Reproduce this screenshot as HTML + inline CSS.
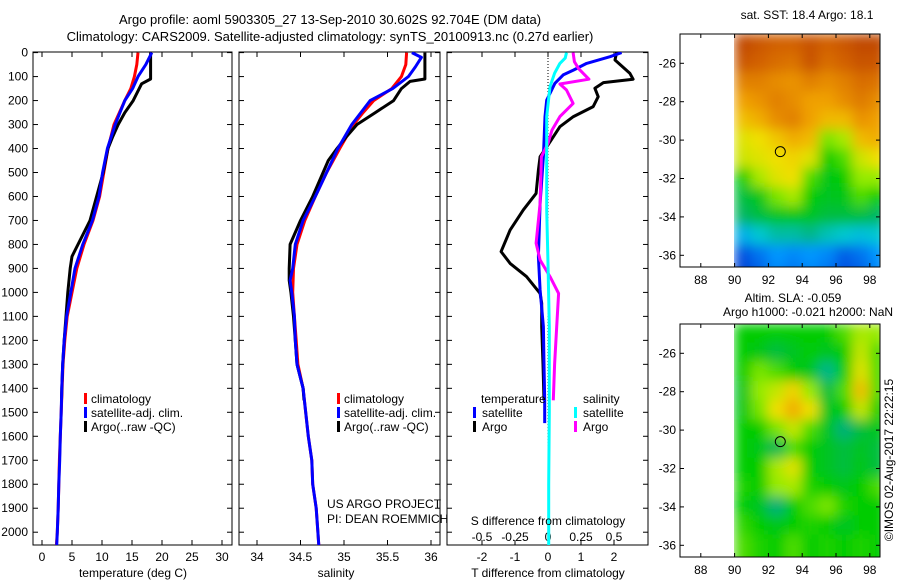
<!DOCTYPE html>
<html><head><meta charset="utf-8">
<style>
html,body{margin:0;padding:0;background:#fff;}
svg{display:block;font-family:"Liberation Sans",Arial,sans-serif;}
text{fill:#000;font-size:12px;}
</style></head>
<body>
<svg id="fig" width="900" height="580" viewBox="0 0 900 580" xmlns="http://www.w3.org/2000/svg">
<defs>
<clipPath id="c1"><rect x="33" y="52" width="199" height="493"/></clipPath>
<clipPath id="c2"><rect x="239" y="52" width="201" height="493"/></clipPath>
<clipPath id="c3"><rect x="447" y="52" width="201" height="493"/></clipPath>
<clipPath id="cm1"><rect x="734" y="34" width="146" height="233"/></clipPath>
<clipPath id="cm2"><rect x="734" y="324" width="146" height="233"/></clipPath>
<filter id="blur" x="-5%" y="-5%" width="110%" height="110%"><feGaussianBlur stdDeviation="6" edgeMode="duplicate"/></filter>
</defs>
<text x="330" y="24" text-anchor="middle" style="font-size:13px">Argo profile: aoml 5903305_27 13-Sep-2010 30.602S 92.704E (DM data)</text>
<text x="330" y="41" text-anchor="middle" style="font-size:13px">Climatology: CARS2009. Satellite-adjusted climatology: synTS_20100913.nc (0.27d earlier)</text>
<g id="axes"></g>
<g id="p1" clip-path="url(#c1)"></g>
<g id="p2" clip-path="url(#c2)"></g>
<g id="p3" clip-path="url(#c3)"><line x1="548" y1="52" x2="548" y2="545" stroke="#000" stroke-width="1" stroke-dasharray="1,2"/></g>
<g clip-path="url(#cm1)"><g id="m1" filter="url(#blur)"></g></g>
<g clip-path="url(#cm2)"><g id="m2" filter="url(#blur)"></g></g>
<g id="maxes"></g>
<g id="legends">
<rect x="84" y="393" width="3" height="11" fill="#f00"/><text x="91" y="403">climatology</text>
<rect x="84" y="407" width="3" height="11" fill="#00f"/><text x="91" y="417">satellite-adj. clim.</text>
<rect x="84" y="421" width="3" height="11" fill="#000"/><text x="91" y="431">Argo(..raw -QC)</text>
<rect x="337" y="393" width="3" height="11" fill="#f00"/><text x="344" y="403">climatology</text>
<rect x="337" y="407" width="3" height="11" fill="#00f"/><text x="344" y="417">satellite-adj. clim.</text>
<rect x="337" y="421" width="3" height="11" fill="#000"/><text x="344" y="431">Argo(..raw -QC)</text>
<text x="481" y="403">temperature</text>
<rect x="473" y="407" width="3" height="11" fill="#00f"/><text x="482" y="417">satellite</text>
<rect x="473" y="421" width="3" height="11" fill="#000"/><text x="482" y="431">Argo</text>
<text x="583" y="403">salinity</text>
<rect x="574" y="407" width="3" height="11" fill="#0ff"/><text x="583" y="417">satellite</text>
<rect x="574" y="421" width="3" height="11" fill="#f0f"/><text x="583" y="431">Argo</text>
</g>
<text x="327" y="508">US ARGO PROJECT</text>
<text x="327" y="523">PI: DEAN ROEMMICH</text>
<text x="548" y="525" text-anchor="middle">S difference from climatology</text>
<text x="133" y="577" text-anchor="middle">temperature (deg C)</text>
<text x="336" y="577" text-anchor="middle">salinity</text>
<text x="548" y="577" text-anchor="middle">T difference from climatology</text>
<text x="807" y="19" text-anchor="middle">sat. SST: 18.4  Argo: 18.1</text>
<text x="793" y="302" text-anchor="middle">Altim. SLA: -0.059</text>
<text x="808" y="316" text-anchor="middle">Argo h1000: -0.021 h2000: NaN</text>
<text transform="translate(893,460) rotate(-90)" text-anchor="middle">©IMOS 02-Aug-2017 22:22:15</text>
</svg>
<script>
// ---- profile data ----
const depthT_clim=[0,50,100,150,200,250,300,400,500,600,700,800,900,1000,1100,1200,1300,1400,1500,1600,1700,1800,1900,2000,2055];
const tempClim=[16.0,15.8,15.4,14.8,13.8,12.9,12.0,11.0,10.3,9.6,8.5,7.0,5.8,5.0,4.2,3.8,3.5,3.35,3.2,3.05,2.9,2.8,2.7,2.55,2.4];
const depthT_sat=[0,50,100,150,200,300,400,500,600,700,800,900,1000,1100,1200,1300,1400,1500,1600,1700,1800,1900,2000,2055];
const tempSat=[18.3,17.3,16.0,15.1,13.8,12.2,10.9,10.1,9.5,8.4,6.8,5.5,4.8,4.1,3.7,3.45,3.3,3.2,3.05,2.95,2.8,2.7,2.55,2.45];
const depthT_argo=[0,110,130,200,250,300,350,400,500,600,700,800,850,900,1000,1100,1200,1300,1400,1450];
const tempArgo=[18.1,18.1,16.6,15.2,13.8,12.7,11.8,11.0,10.2,9.1,8.0,6.0,5.0,4.7,4.3,4.0,3.7,3.45,3.3,3.25];
const depthS_clim=[0,50,100,150,200,250,300,400,500,600,700,800,900,1000,1100,1200,1300,1400,1500,1600,1700,1800,1900,2000,2055];
const salClim=[35.72,35.71,35.66,35.55,35.34,35.22,35.11,34.95,34.8,34.67,34.55,34.46,34.42,34.41,34.43,34.45,34.47,34.53,34.56,34.59,34.63,34.64,34.68,34.7,34.71];
const depthS_sat=[0,20,60,100,150,200,300,400,500,600,700,800,900,950,1000,1100,1200,1300,1400,1500,1600,1700,1800,1900,2000,2055];
const salSat=[35.78,35.89,35.82,35.74,35.56,35.3,35.09,34.93,34.8,34.67,34.53,34.44,34.41,34.38,34.4,34.43,34.44,34.46,34.53,34.56,34.59,34.63,34.64,34.68,34.7,34.71];
const depthS_argo=[0,110,120,150,200,250,300,350,400,450,500,600,700,800,900,950,1000,1100,1200,1300,1400,1450];
const salArgo=[35.93,35.93,35.76,35.66,35.57,35.36,35.15,35.03,34.92,34.82,34.76,34.64,34.5,34.38,34.37,34.37,34.39,34.42,34.44,34.46,34.53,34.54];
const depthDT_argo=[0,31,86,111,125,149,184,225,267,309,385,434,490,587,656,740,830,879,934,1004,1045,1143,1300,1450];
const dTArgo=[2.08,2.03,2.48,2.58,1.68,1.42,1.52,1.37,0.77,0.36,0.0,-0.24,-0.29,-0.36,-0.75,-1.15,-1.42,-1.15,-0.65,-0.24,-0.19,-0.19,-0.15,-0.12];
const depthDT_sat=[0,17,45,73,93,128,198,267,434,629,851,990,1143,1300,1450,1545];
const dTSat=[2.23,1.88,1.17,0.77,0.46,0.21,-0.04,-0.09,-0.14,-0.24,-0.29,-0.24,-0.14,-0.12,-0.1,-0.1];
const depthDS_argo=[0,38,66,111,131,156,212,267,323,379,434,629,795,865,934,1004,1143,1300,1450];
const dSArgo=[0.19,0.2,0.23,0.31,0.09,0.14,0.19,0.09,0.03,0.0,-0.05,-0.06,-0.09,-0.06,0.015,0.08,0.066,0.05,0.04];
const depthDS_sat=[0,23,45,86,142,267,462,656,879,1143,1500,1800,2055];
const dSSat=[0.14,0.13,0.09,0.05,0.015,-0.01,-0.01,-0.01,0.0,0.01,0.01,0.005,0.005];
const depthTicks=[0,100,200,300,400,500,600,700,800,900,1000,1100,1200,1300,1400,1500,1600,1700,1800,1900,2000];
const tTicks=[0,5,10,15,20,25,30];
const sTicks=[34,34.5,35,35.5,36];
const dTTicks=[-2,-1,0,1,2];
const dSTicks=[-0.5,-0.25,0,0.25,0.5];
// ---- map data (colour index 0..1 per 1-degree cell, rows from -24.5 southward, cols from 90E) ----
const mapLon0=90, mapLat0=-24.47;
const sstGrid=[
[0.95,0.92,0.9,0.9,0.93,0.9,0.92,0.95,0.95],
[0.92,0.9,0.88,0.87,0.93,0.88,0.9,0.93,0.92],
[0.85,0.85,0.83,0.82,0.85,0.83,0.85,0.88,0.87],
[0.8,0.82,0.85,0.83,0.8,0.8,0.83,0.86,0.83],
[0.75,0.78,0.83,0.85,0.8,0.76,0.76,0.82,0.8],
[0.68,0.7,0.74,0.78,0.76,0.58,0.62,0.76,0.78],
[0.66,0.68,0.7,0.72,0.68,0.5,0.55,0.66,0.7],
[0.5,0.62,0.68,0.7,0.55,0.48,0.5,0.6,0.6],
[0.45,0.48,0.58,0.62,0.5,0.47,0.48,0.55,0.5],
[0.42,0.45,0.47,0.48,0.47,0.45,0.45,0.45,0.42],
[0.25,0.3,0.35,0.35,0.38,0.33,0.3,0.28,0.3],
[0.1,0.15,0.2,0.18,0.2,0.18,0.12,0.15,0.2],
[0.08,0.12,0.18,0.15,0.18,0.15,0.1,0.12,0.18]];
const slaGrid=[
[0.5,0.5,0.5,0.5,0.5,0.5,0.55,0.62,0.6],
[0.5,0.48,0.45,0.47,0.5,0.47,0.5,0.65,0.55],
[0.5,0.58,0.55,0.5,0.47,0.38,0.5,0.68,0.55],
[0.47,0.6,0.65,0.72,0.6,0.45,0.55,0.75,0.55],
[0.48,0.58,0.7,0.78,0.7,0.47,0.5,0.65,0.5],
[0.5,0.5,0.58,0.65,0.55,0.47,0.4,0.45,0.48],
[0.5,0.48,0.43,0.55,0.5,0.47,0.45,0.47,0.45],
[0.5,0.5,0.62,0.68,0.5,0.47,0.45,0.48,0.45],
[0.52,0.5,0.6,0.62,0.52,0.5,0.48,0.5,0.55],
[0.5,0.47,0.4,0.5,0.55,0.58,0.52,0.5,0.5],
[0.53,0.5,0.48,0.5,0.52,0.5,0.47,0.5,0.5],
[0.55,0.52,0.5,0.55,0.5,0.52,0.5,0.52,0.5],
[0.55,0.52,0.5,0.55,0.5,0.52,0.5,0.52,0.5]];
const floatLon=92.704, floatLat=-30.602;
const lonTicks=[88,90,92,94,96,98];
const latTicks=[-26,-28,-30,-32,-34,-36];

const NS='http://www.w3.org/2000/svg';
function mk(tag,attrs,parent){const e=document.createElementNS(NS,tag);for(const k in attrs)e.setAttribute(k,attrs[k]);parent.appendChild(e);return e;}
const yD=d=>52.6+0.2398*d;
const xT=t=>42+6*t;
const xS=s=>257+87*(s-34);
const xDT=t=>548+33*t;
const xDS=s=>548+132*s;
function line(g,xs,ds,fx,col,name){
  const pts=xs.map((v,i)=>fx(v).toFixed(1)+','+yD(ds[i]).toFixed(1)).join(' ');
  const p=mk('polyline',{points:pts,fill:'none',stroke:col,'stroke-width':3,'stroke-linejoin':'round'},g);
  
  
}
const p1=document.getElementById('p1'),p2=document.getElementById('p2'),p3=document.getElementById('p3');
line(p1,tempClim,depthT_clim,xT,'#f00','temp-climatology-line');
line(p1,tempArgo,depthT_argo,xT,'#000','temp-argo-line');
line(p1,tempSat,depthT_sat,xT,'#00f','temp-satellite-line');
line(p2,salClim,depthS_clim,xS,'#f00','sal-climatology-line');
line(p2,salArgo,depthS_argo,xS,'#000','sal-argo-line');
line(p2,salSat,depthS_sat,xS,'#00f','sal-satellite-line');
line(p3,dTArgo,depthDT_argo,xDT,'#000','tdiff-argo-line');
line(p3,dTSat,depthDT_sat,xDT,'#00f','tdiff-satellite-line');
line(p3,dSArgo,depthDS_argo,xDS,'#f0f','sdiff-argo-line');
line(p3,dSSat,depthDS_sat,xDS,'#0ff','sdiff-satellite-line');

const ax=document.getElementById('axes');
const panels=[[33,232,tTicks,xT,'temperature-axis'],[239,440,sTicks,xS,'salinity-axis'],[447,648,dTTicks,xDT,'t-diff-axis']];
panels.forEach(([l,r,ticks,fx,nm])=>{
  const b=mk('rect',{x:l,y:52,width:r-l,height:493,fill:'none',stroke:'#000','stroke-width':1},ax);
  
  
  depthTicks.forEach(d=>{const y=yD(d);mk('line',{x1:l,y1:y,x2:l+5,y2:y,stroke:'#000'},ax);mk('line',{x1:r,y1:y,x2:r-5,y2:y,stroke:'#000'},ax);});
  ticks.forEach(t=>{const x=fx(t);mk('line',{x1:x,y1:545,x2:x,y2:540,stroke:'#000'},ax);mk('line',{x1:x,y1:52,x2:x,y2:57,stroke:'#000'},ax);
    const tx=mk('text',{x:x,y:561,'text-anchor':'middle'},ax);tx.textContent=t;
    
    });
});
depthTicks.forEach(d=>{const tx=mk('text',{x:28,y:yD(d)+4,'text-anchor':'end'},ax);tx.textContent=d;
  
  });
dSTicks.forEach(s=>{const tx=mk('text',{x:xDS(s),y:541,'text-anchor':'middle'},ax);tx.textContent=s;
  
  });

// ---- maps ----
const stops=[[0,[0,16,160]],[0.1,[0,80,224]],[0.2,[0,150,255]],[0.3,[0,200,210]],[0.4,[0,176,120]],[0.5,[0,204,0]],[0.6,[150,235,0]],[0.7,[240,224,0]],[0.8,[240,160,0]],[0.9,[210,96,0]],[1,[176,48,0]]];
function cmap(v){for(let i=1;i<stops.length;i++){if(v<=stops[i][0]){const a=stops[i-1],b=stops[i],f=(v-a[0])/(b[0]-a[0]);return 'rgb('+a[1].map((c,k)=>Math.round(c+(b[1][k]-c)*f)).join(',')+')';}}return 'rgb(176,48,0)';}
const xLon=lon=>734.6+16.9*(lon-90);
function drawMap(gid,grid,latTopY,name){
  const yLat=lat=>latTopY+19.2*(-26-lat);
  const g=document.getElementById(gid);
  grid.forEach((row,r)=>row.forEach((v,c)=>{
    const x0=xLon(mapLon0+c), y0=yLat(mapLat0-r);
    const cell=mk('rect',{x:x0-0.5,y:y0-0.5,width:17.9,height:20.2,fill:cmap(v)},g);
    
    
  }));
  const m=document.getElementById('maxes');
  const top=latTopY-29.3, bot=top+233;
  const fr=mk('rect',{x:680,y:top,width:200,height:233,fill:'none',stroke:'#000'},m);
  
  
  lonTicks.forEach(lo=>{const x=xLon(lo);mk('line',{x1:x,y1:bot,x2:x,y2:bot-4,stroke:'#000'},m);mk('line',{x1:x,y1:top,x2:x,y2:top+4,stroke:'#000'},m);
    const t=mk('text',{x:x,y:bot+17,'text-anchor':'middle'},m);t.textContent=lo;
    
    });
  latTicks.forEach(la=>{const y=yLat(la);mk('line',{x1:680,y1:y,x2:684,y2:y,stroke:'#000'},m);mk('line',{x1:880,y1:y,x2:876,y2:y,stroke:'#000'},m);
    const t=mk('text',{x:676,y:y+4,'text-anchor':'end'},m);t.textContent=la;
    
    });
  const c=mk('circle',{cx:xLon(floatLon),cy:yLat(floatLat),r:5,fill:'none',stroke:'#000','stroke-width':1},m);
  
  
}
drawMap('m1',sstGrid,63.3,'sst-map');
drawMap('m2',slaGrid,353.3,'sla-map');
</script>
</body></html>
